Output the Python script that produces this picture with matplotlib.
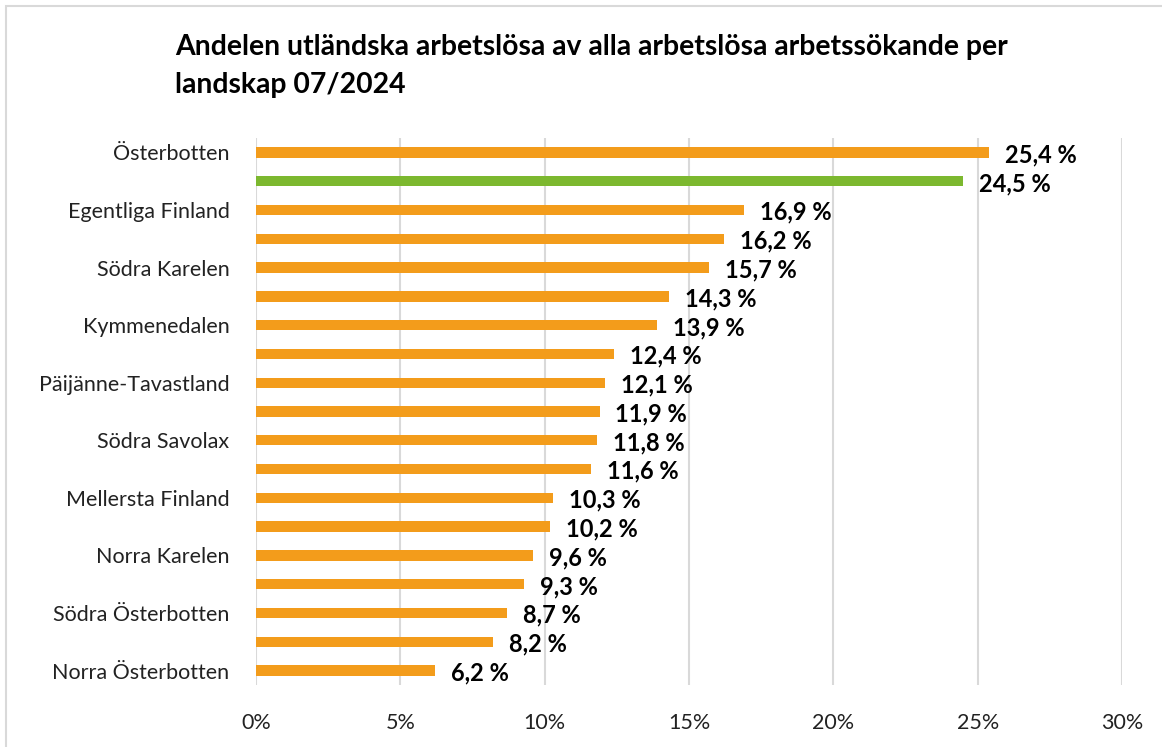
import matplotlib.pyplot as plt
from matplotlib.patches import Rectangle
from matplotlib.ticker import FuncFormatter

# landskap (endast vartannat namn visas i originalet)
regions = ['Österbotten', 'Hela landet', 'Egentliga Finland', 'Birkaland',
           'Södra Karelen', 'Egentliga Tavastland', 'Kymmenedalen', 'Satakunta',
           'Päijänne-Tavastland', 'Norra Savolax', 'Södra Savolax', 'Lappland',
           'Mellersta Finland', 'Kajanaland', 'Norra Karelen', 'Mellersta Österbotten',
           'Södra Österbotten', 'Åland', 'Norra Österbotten']
shown = [True, False] * 9 + [True]
values = [25.4, 24.5, 16.9, 16.2, 15.7, 14.3, 13.9, 12.4, 12.1, 11.9,
          11.8, 11.6, 10.3, 10.2, 9.6, 9.3, 8.7, 8.2, 6.2]
highlight = 'Hela landet'

plt.rcParams['font.family'] = ['Lato', 'DejaVu Sans']

fig = plt.figure(figsize=(11.62, 7.47), dpi=100)
ax = fig.add_axes([256 / 1162, 1 - 685 / 747, 866 / 1162, (685 - 138) / 747])

colors = ['#7cb82f' if r == highlight else '#f39c1b' for r in regions]
y = list(range(len(regions)))
ax.barh(y, values, height=0.36, color=colors, zorder=3)

for yi, v in zip(y, values):
    ax.text(v + 0.55, yi + 0.08, f'{v:.1f} %'.replace('.', ','), va='center', ha='left',
            fontsize=17, fontweight='bold', color='black', zorder=4)

ax.set_xlim(0, 30)
ax.set_ylim(len(regions) - 0.5, -0.5)
ax.set_xticks(range(0, 31, 5))
ax.xaxis.set_major_formatter(FuncFormatter(lambda x, p: f'{int(x)}%'))
ax.set_yticks(y)
ax.set_yticklabels([r if s else '' for r, s in zip(regions, shown)])
ax.tick_params(axis='both', length=0, labelsize=15.5, colors='#222222')
ax.tick_params(axis='y', pad=19)
ax.tick_params(axis='x', pad=20)
ax.grid(axis='x', color='#d9d9d9', linewidth=1.5, zorder=0)
for s in ax.spines.values():
    s.set_visible(False)

fig.text(175 / 1162, 1 - 66 / 747, 'Andelen utländska arbetslösa av alla arbetslösa arbetssökande per\nlandskap 07/2024',
         ha='left', va='center', fontsize=20.4, fontweight='bold', color='black', linespacing=1.55)

# ram kring diagrammet
fig.patches.append(Rectangle((6 / 1162, -0.1), 1.2, 1 - 6 / 747 + 0.1, transform=fig.transFigure,
                             fill=False, edgecolor='#d9d9d9', linewidth=1.5))

plt.savefig('out.png', dpi=100)
plt.close()
